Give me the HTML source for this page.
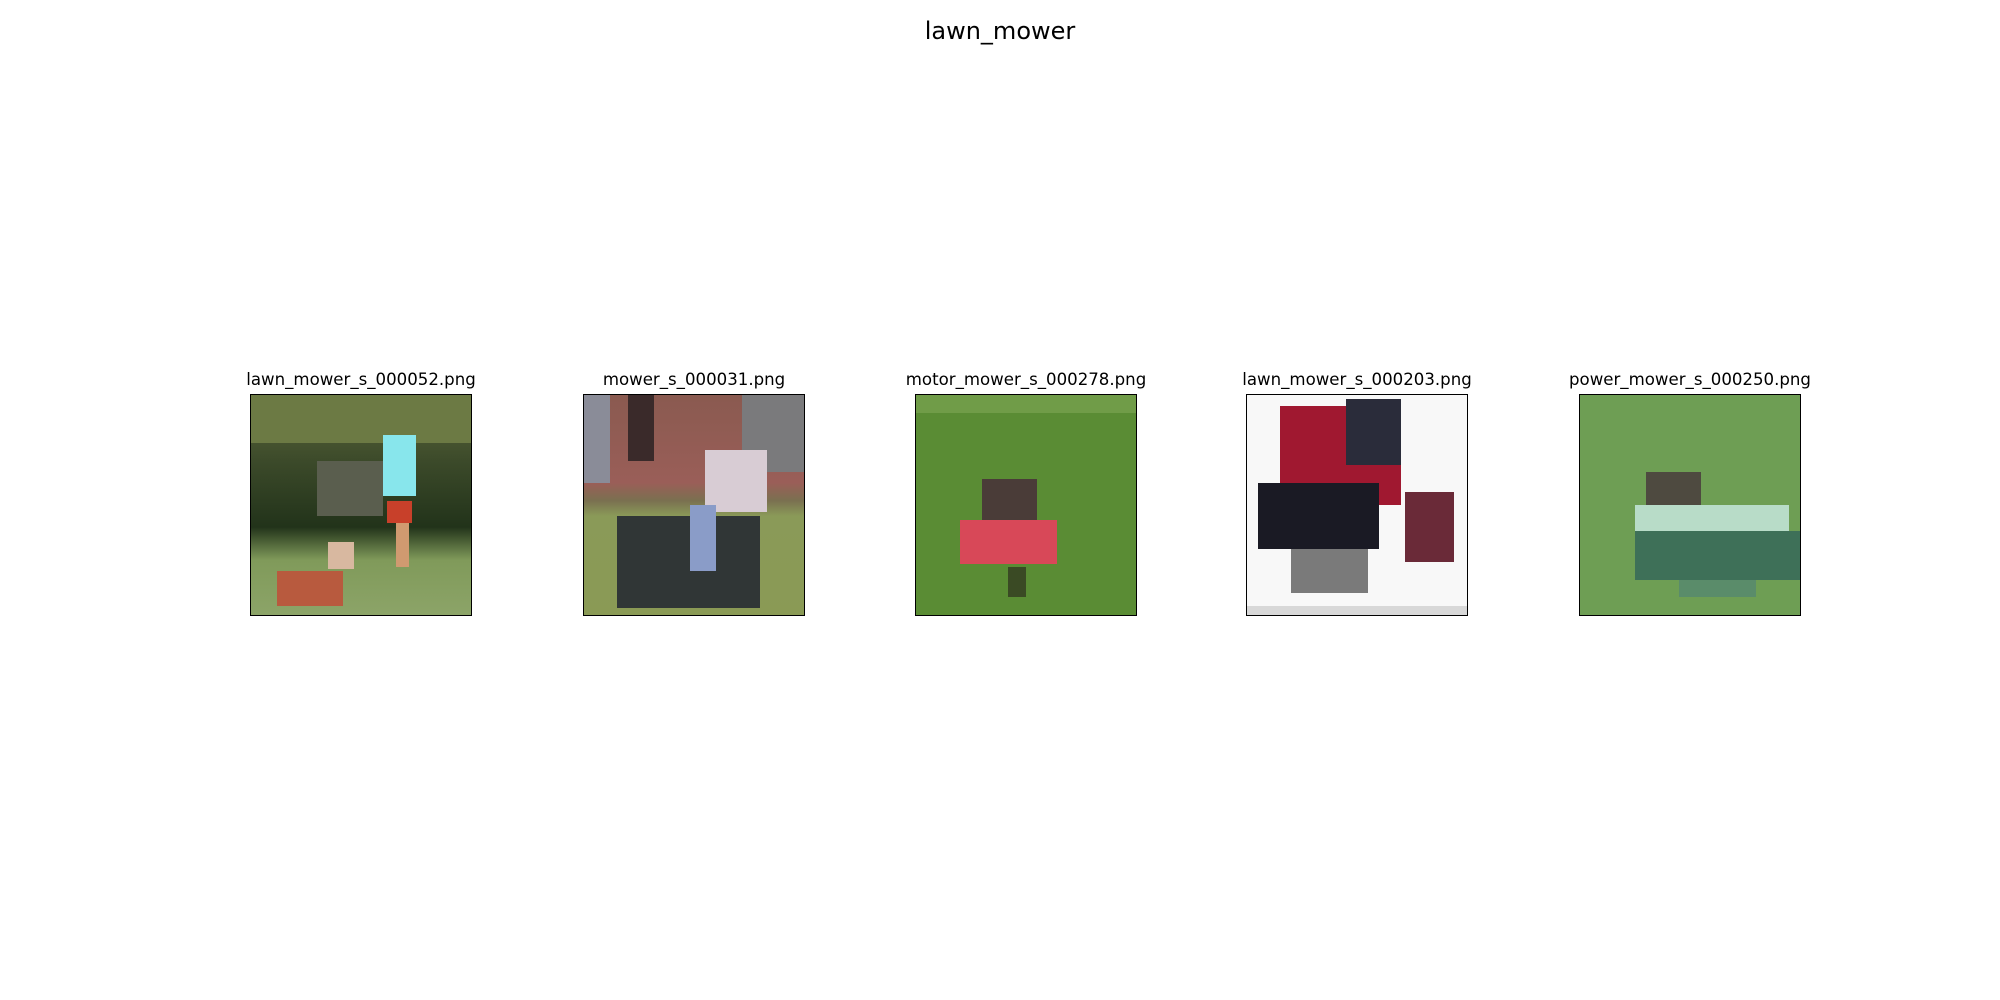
<!DOCTYPE html>
<html><head><meta charset="utf-8"><style>
body{margin:0;width:2000px;height:1000px;background:#fff;position:relative;overflow:hidden;font-family:"DejaVu Sans","Liberation Sans",sans-serif;}
.t{position:absolute;text-align:center;width:400px;font-size:16.6px;color:#000;}
.im{position:absolute;top:394px;width:222px;height:222px;border:1px solid #000;box-sizing:border-box;overflow:hidden;}
.im div{position:absolute;}
</style></head><body>
<div style="position:absolute;left:800px;width:400px;top:17px;text-align:center;font-size:24px;">lawn_mower</div>

<div class="t" style="left:161px;top:370px;">lawn_mower_s_000052.png</div>
<div class="im" style="left:250px;background:linear-gradient(#5e6a3c 0%,#3c4a2a 30%,#22331a 60%,#809a5a 75%,#8ca468 100%);">
<div style="left:0;top:0;width:100%;height:22%;background:#6c7a44;"></div>
<div style="left:30%;top:30%;width:30%;height:25%;background:#5a5e4e;"></div>
<div style="left:60%;top:18%;width:15%;height:28%;background:#88e6ec;"></div>
<div style="left:62%;top:48%;width:11%;height:10%;background:#c8402a;"></div>
<div style="left:66%;top:58%;width:6%;height:20%;background:#d09a70;"></div>
<div style="left:12%;top:80%;width:30%;height:16%;background:#b85a3e;"></div>
<div style="left:35%;top:67%;width:12%;height:12%;background:#d8b8a0;"></div>
</div>

<div class="t" style="left:494px;top:370px;">mower_s_000031.png</div>
<div class="im" style="left:583px;background:linear-gradient(#8a5a50 0%,#9a5e58 40%,#7a7050 48%,#8a9a58 55%,#8a9a55 100%);">
<div style="left:0;top:0;width:12%;height:40%;background:#8a8c98;"></div>
<div style="left:72%;top:0;width:28%;height:35%;background:#7a7a7c;"></div>
<div style="left:20%;top:0;width:12%;height:30%;background:#3a2a2a;"></div>
<div style="left:15%;top:55%;width:65%;height:42%;background:#303636;"></div>
<div style="left:55%;top:25%;width:28%;height:28%;background:#d8ccd4;"></div>
<div style="left:48%;top:50%;width:12%;height:30%;background:#8a9cc8;"></div>
</div>

<div class="t" style="left:826px;top:370px;">motor_mower_s_000278.png</div>
<div class="im" style="left:915px;background:#5a8c34;">
<div style="left:0;top:0;width:100%;height:8%;background:#709c48;"></div>
<div style="left:30%;top:38%;width:25%;height:22%;background:#4a3c38;"></div>
<div style="left:20%;top:57%;width:44%;height:20%;background:#d84858;"></div>
<div style="left:42%;top:78%;width:8%;height:14%;background:#3a4a24;"></div>
</div>

<div class="t" style="left:1157px;top:370px;">lawn_mower_s_000203.png</div>
<div class="im" style="left:1246px;background:#f8f8f8;">
<div style="left:15%;top:5%;width:55%;height:45%;background:#a01830;"></div>
<div style="left:45%;top:2%;width:25%;height:30%;background:#2a2c3a;"></div>
<div style="left:5%;top:40%;width:55%;height:30%;background:#1a1a24;"></div>
<div style="left:20%;top:70%;width:35%;height:20%;background:#7a7a7a;"></div>
<div style="left:72%;top:44%;width:22%;height:32%;background:#6a2a38;"></div>
<div style="left:0;top:96%;width:100%;height:4%;background:#d8d8d8;"></div>
</div>

<div class="t" style="left:1490px;top:370px;">power_mower_s_000250.png</div>
<div class="im" style="left:1579px;background:#6e9e54;">
<div style="left:30%;top:35%;width:25%;height:18%;background:#4e4a40;"></div>
<div style="left:25%;top:50%;width:70%;height:12%;background:#b8dcc8;"></div>
<div style="left:25%;top:62%;width:75%;height:22%;background:#3e7058;"></div>
<div style="left:45%;top:84%;width:35%;height:8%;background:#5a8c6a;"></div>
</div>
</body></html>
